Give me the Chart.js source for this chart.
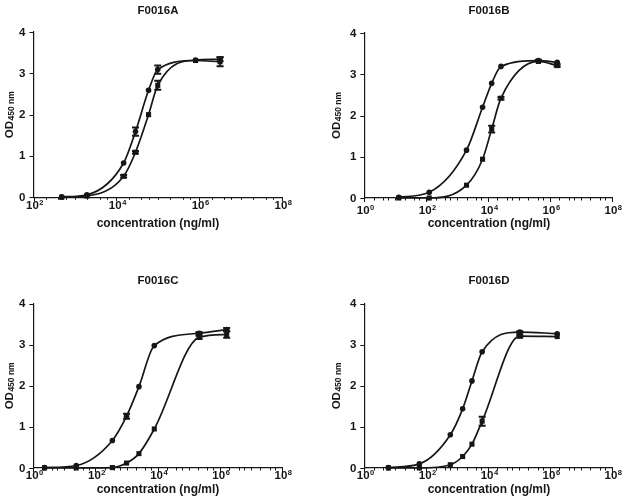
<!DOCTYPE html>
<html>
<head>
<meta charset="utf-8">
<script src="https://cdn.jsdelivr.net/npm/chart.js@4.4.1/dist/chart.umd.min.js"></script>
<style>
  html, body { margin: 0; padding: 0; background: #fff; overflow: hidden; }
  #wrap { position: relative; width: 625px; height: 504px; }
  #wrap canvas { position: absolute; left: 0; top: 0; }
</style>
</head>
<body>
<div id="wrap">
  <canvas id="cA" width="625" height="504"></canvas>
  <canvas id="cB" width="625" height="504"></canvas>
  <canvas id="cC" width="625" height="504"></canvas>
  <canvas id="cD" width="625" height="504"></canvas>
</div>
<script>
// concentrations (ng/ml) and OD450 readings
const concA    = [480, 1950, 15000, 29000, 60000, 100000, 820000, 3200000];
const circA    = [0.01, 0.06, 0.83, 1.59, 2.59, 3.09, 3.32, 3.34];
const circAErr = [0, 0, 0, 0.1, 0, 0.1, 0, 0.05];
const sqA      = [0.0, 0.03, 0.51, 1.09, 2.0, 2.71, 3.31, 3.28];
const sqAErr   = [0, 0, 0.03, 0.03, 0, 0.11, 0, 0.11];

const concB    = [13, 125, 2000, 6600, 13000, 26000, 420000, 1700000];
const circB    = [0.02, 0.14, 1.16, 2.2, 2.78, 3.19, 3.33, 3.29];
const circBErr = [0, 0, 0, 0, 0, 0, 0.02, 0];
const sqB      = [0.0, 0.0, 0.31, 0.94, 1.67, 2.42, 3.31, 3.21];
const sqBErr   = [0, 0, 0, 0, 0.08, 0.03, 0, 0.03];

const concC    = [2.3, 24, 350, 1000, 2500, 7800, 215000, 1660000];
const circC    = [0.01, 0.06, 0.67, 1.26, 1.98, 2.98, 3.28, 3.37];
const circCErr = [0, 0, 0, 0.06, 0, 0, 0.03, 0.04];
const sqC      = [0.0, 0.0, 0.01, 0.12, 0.35, 0.95, 3.18, 3.25];
const sqCErr   = [0, 0, 0, 0, 0, 0, 0.04, 0.08];

const concD    = [6, 60, 600, 1500, 3000, 6400, 105000, 1700000];
const circD    = [0.01, 0.1, 0.81, 1.44, 2.12, 2.83, 3.31, 3.27];
const circDErr = [0, 0, 0, 0, 0, 0, 0.02, 0];
const sqD      = [0.0, 0.0, 0.08, 0.28, 0.58, 1.14, 3.21, 3.2];
const sqDErr   = [0, 0, 0, 0, 0, 0.11, 0.03, 0];

const yTicks   = [0, 1, 2, 3, 4];
const minorMul = [2, 4, 6];

const W = 625, H = 504;
const INK  = "#161616";
const FONT = "'Liberation Sans', Arial, sans-serif";

const panels = [
  { id: "cA", title: "F0016A", left: 33.5, right: 282, top: 32, bottom: 197.3, xmin: 1e2, xmax: 1e8,
    cx: 158, titleBase: 13.6, labelBase: 208.5, xTitleBase: 227, yTitleX: 8.5,
    conc: concA, circ: circA, circErr: circAErr, sq: sqA, sqErr: sqAErr },
  { id: "cB", title: "F0016B", left: 364.3, right: 612, top: 33, bottom: 198, xmin: 1e0, xmax: 1e8,
    cx: 489, titleBase: 13.6, labelBase: 213.5, xTitleBase: 227, yTitleX: 336,
    conc: concB, circ: circB, circErr: circBErr, sq: sqB, sqErr: sqBErr },
  { id: "cC", title: "F0016C", left: 33.3, right: 282, top: 303.7, bottom: 468, xmin: 1e0, xmax: 1e8,
    cx: 158, titleBase: 284, labelBase: 478.7, xTitleBase: 493, yTitleX: 8.5,
    conc: concC, circ: circC, circErr: circCErr, sq: sqC, sqErr: sqCErr },
  { id: "cD", title: "F0016D", left: 364.3, right: 612, top: 303.7, bottom: 468, xmin: 1e0, xmax: 1e8,
    cx: 489, titleBase: 284, labelBase: 479, xTitleBase: 493, yTitleX: 336,
    conc: concD, circ: circD, circErr: circDErr, sq: sqD, sqErr: sqDErr },
];

function decor(p) {
  return {
    id: "decor_" + p.id,
    afterDatasetsDraw(chart) {
      const { ctx, scales: { y } } = chart;
      ctx.save();
      ctx.strokeStyle = INK;
      [p.circErr, p.sqErr].forEach((errs, di) => {
        const meta = chart.getDatasetMeta(di);
        const vals = di === 0 ? p.circ : p.sq;
        errs.forEach((e, j) => {
          if (!e) return;
          const px = meta.data[j].x;
          const y1 = y.getPixelForValue(vals[j] + e);
          const y2 = y.getPixelForValue(vals[j] - e);
          ctx.lineWidth = 1.6;
          ctx.beginPath();
          ctx.moveTo(px, y1); ctx.lineTo(px, y2);
          ctx.stroke();
          ctx.lineWidth = 2;
          ctx.beginPath();
          ctx.moveTo(px - 3.5, y1); ctx.lineTo(px + 3.5, y1);
          ctx.moveTo(px - 3.5, y2); ctx.lineTo(px + 3.5, y2);
          ctx.stroke();
        });
      });
      ctx.restore();
    },
    afterDraw(chart) {
      const { ctx, chartArea: a, scales: { x, y } } = chart;
      ctx.save();
      ctx.strokeStyle = INK;
      ctx.fillStyle = INK;
      ctx.lineWidth = 1;

      // x ticks (log decades + minor)
      const lo = Math.round(Math.log10(p.xmin)), hi = Math.round(Math.log10(p.xmax));
      const tick = (px, len) => {
        ctx.beginPath();
        ctx.moveTo(Math.round(px) + 0.5, a.bottom);
        ctx.lineTo(Math.round(px) + 0.5, a.bottom + len);
        ctx.stroke();
      };
      for (let d = lo; d <= hi; d++) {
        tick(x.getPixelForValue(Math.pow(10, d)), d % 2 === 0 ? 4 : 2.5);
        if (d < hi) minorMul.forEach(m => tick(x.getPixelForValue(m * Math.pow(10, d)), 2.5));
      }

      // x tick labels 10^n
      ctx.textAlign = "left";
      ctx.textBaseline = "alphabetic";
      for (let d = lo; d <= hi; d += 2) {
        const px = x.getPixelForValue(Math.pow(10, d));
        ctx.font = "bold 11.5px " + FONT;
        const w1 = ctx.measureText("10").width;
        ctx.font = "bold 7.5px " + FONT;
        const w2 = ctx.measureText(String(d)).width;
        const sx = px - (w1 + w2) / 2 + 1;
        ctx.font = "bold 11.5px " + FONT;
        ctx.fillText("10", sx, p.labelBase);
        ctx.font = "bold 7.5px " + FONT;
        ctx.fillText(String(d), sx + w1 + 0.5, p.labelBase - 4);
      }

      // y ticks + labels
      ctx.font = "bold 11.5px " + FONT;
      ctx.textAlign = "right";
      yTicks.forEach(v => {
        const py = y.getPixelForValue(v);
        ctx.beginPath();
        ctx.moveTo(a.left - 4, Math.round(py) + 0.5);
        ctx.lineTo(a.left, Math.round(py) + 0.5);
        ctx.stroke();
        ctx.fillText(String(v), a.left - 8, py + 3.5);
      });

      // panel title
      ctx.textAlign = "center";
      ctx.font = "bold 11.5px " + FONT;
      ctx.fillText(p.title, p.cx, p.titleBase);

      // x axis title
      ctx.font = "bold 12px " + FONT;
      ctx.fillText("concentration (ng/ml)", p.cx, p.xTitleBase);

      // y axis title OD450 nm
      ctx.save();
      ctx.translate(p.yTitleX, (a.top + a.bottom) / 2);
      ctx.rotate(-Math.PI / 2);
      ctx.font = "bold 11.5px " + FONT;
      const wOD = ctx.measureText("OD").width;
      ctx.font = "bold 8.5px " + FONT;
      const wSub = ctx.measureText("450 nm").width;
      const sx = -(wOD + wSub + 0.5) / 2;
      ctx.textAlign = "left";
      ctx.font = "bold 11.5px " + FONT;
      ctx.fillText("OD", sx, 4);
      ctx.font = "bold 8.5px " + FONT;
      ctx.fillText("450 nm", sx + wOD + 0.5, 5);
      ctx.restore();

      ctx.restore();
    }
  };
}

const lineStyle = {
  borderColor: INK,
  backgroundColor: INK,
  pointBackgroundColor: INK,
  pointBorderColor: INK,
  pointBorderWidth: 0,
  borderWidth: 1.7,
  cubicInterpolationMode: "monotone",
  clip: false,
};

panels.forEach(p => {
  new Chart(document.getElementById(p.id), {
    type: "line",
    data: {
      datasets: [
        { ...lineStyle, data: p.conc.map((c, i) => ({ x: c, y: p.circ[i] })), pointStyle: "circle", pointRadius: 2.8 },
        { ...lineStyle, data: p.conc.map((c, i) => ({ x: c, y: p.sq[i] })), pointStyle: "rect", pointRadius: 3.6 },
      ]
    },
    options: {
      responsive: false,
      animation: false,
      events: [],
      layout: { padding: { left: p.left, top: p.top, right: W - p.right, bottom: H - p.bottom } },
      plugins: { legend: { display: false }, tooltip: { enabled: false } },
      scales: {
        x: {
          type: "logarithmic", min: p.xmin, max: p.xmax,
          grid: { display: false }, ticks: { display: false },
          border: { display: true, color: INK, width: 1.2 },
          afterFit: s => { s.height = 0; }
        },
        y: {
          min: 0, max: 4,
          grid: { display: false }, ticks: { display: false },
          border: { display: true, color: INK, width: 1.2 },
          afterFit: s => { s.width = 0; }
        }
      }
    },
    plugins: [decor(p)]
  });
});
</script>
</body>
</html>
